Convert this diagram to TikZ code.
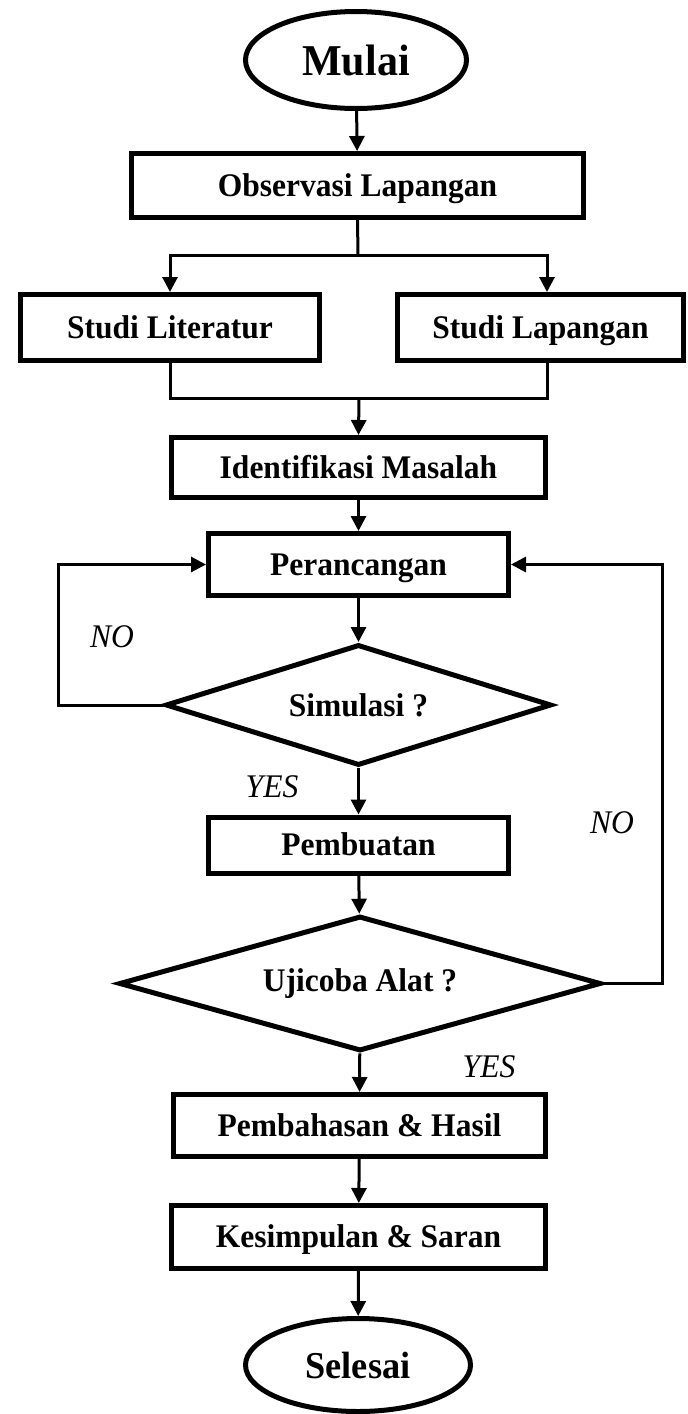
\documentclass[tikz,border=0pt]{standalone}
\usepackage{fontspec}
\setmainfont{Liberation Serif}[FakeStretch=0.955]
\usetikzlibrary{shapes.geometric,arrows.meta}

\begin{document}
\begin{tikzpicture}[x=1pt,y=-1pt,
    box/.style={draw, line width=5pt, inner sep=0pt, text height=21pt, text depth=0pt, font=\bfseries\fontsize{33}{38}\selectfont},
    decision/.style={draw, diamond, aspect=3.5, line width=5pt, inner sep=0pt, font=\bfseries\fontsize{33}{38}\selectfont},
    term/.style={draw, ellipse, line width=5pt, inner sep=0pt},
    arr/.style={line width=3pt, -{Triangle[length=15pt,width=15pt]}},
    ln/.style={line width=3pt},
    lbl/.style={font=\itshape\fontsize{33}{38}\selectfont}]
    \useasboundingbox (0,0) rectangle (688,1414);

    \node[term, minimum width=221pt, minimum height=97pt, font=\bfseries\fontsize{44}{50}\selectfont] (mulai) at (356,60) {Mulai};
    \node[box, minimum width=452pt, minimum height=64pt] (obs) at (357.5,185.5) {Observasi Lapangan};
    \node[box, minimum width=299pt, minimum height=66pt] (lit) at (170,327.5) {Studi Literatur};
    \node[box, minimum width=286pt, minimum height=66pt] (lap) at (540.5,327.5) {Studi Lapangan};
    \node[box, minimum width=374pt, minimum height=60pt] (idf) at (358.5,467.5) {Identifikasi Masalah};
    \node[box, minimum width=300pt, minimum height=62pt] (per) at (358.5,564.5) {Perancangan};
    \node[decision, minimum width=386pt, minimum height=121pt] (sim) at (358.5,705) {Simulasi ?};
    \node[box, minimum width=300pt, minimum height=56pt] (pem) at (358.5,845) {Pembuatan};
    \node[decision, minimum width=482pt, minimum height=135pt] (uji) at (360,983.5) {Ujicoba Alat ?};
    \node[box, minimum width=372pt, minimum height=62pt] (bah) at (359.5,1125.5) {Pembahasan \& Hasil};
    \node[box, minimum width=374pt, minimum height=63pt] (kes) at (358.5,1237) {Kesimpulan \& Saran};
    \node[term, minimum width=225pt, minimum height=93pt, font=\bfseries\fontsize{38}{44}\selectfont] (selesai) at (358,1365) {Selesai};

    \node[lbl] (no1) at (112,637) {NO};
    \node[lbl] (yes1) at (272,787) {YES};
    \node[lbl] (no2) at (612,823) {NO};
    \node[lbl] (yes2) at (489,1067) {YES};

    \coordinate (pisah) at (358,255);
    \coordinate (gabung) at (359,398);
    \coordinate (nl) at (58,564.5);
    \coordinate (nr) at (662,564.5);

    \draw[arr] (mulai) -- (obs);
    \draw[ln] (obs.south) -- (pisah);
    \draw[arr] (pisah) -| (lit.north);
    \draw[arr] (pisah) -| ([xshift=6.5pt]lap.north);
    \draw[ln] (lit.south) |- (gabung) -| ([xshift=6.5pt]lap.south);
    \draw[arr] (gabung) -- (idf.north);
    \draw[arr] (idf) -- (per);
    \draw[arr] (per) -- (sim);
    \draw[arr] (sim.west) -| (nl) -- (per.west);
    \draw[arr] (sim) -- (pem);
    \draw[arr] (pem) -- (uji);
    \draw[arr] (uji.east) -| (nr) -- (per.east);
    \draw[arr] (uji) -- (bah);
    \draw[arr] (bah) -- (kes);
    \draw[arr] (kes) -- (selesai);

\end{tikzpicture}
\end{document}
